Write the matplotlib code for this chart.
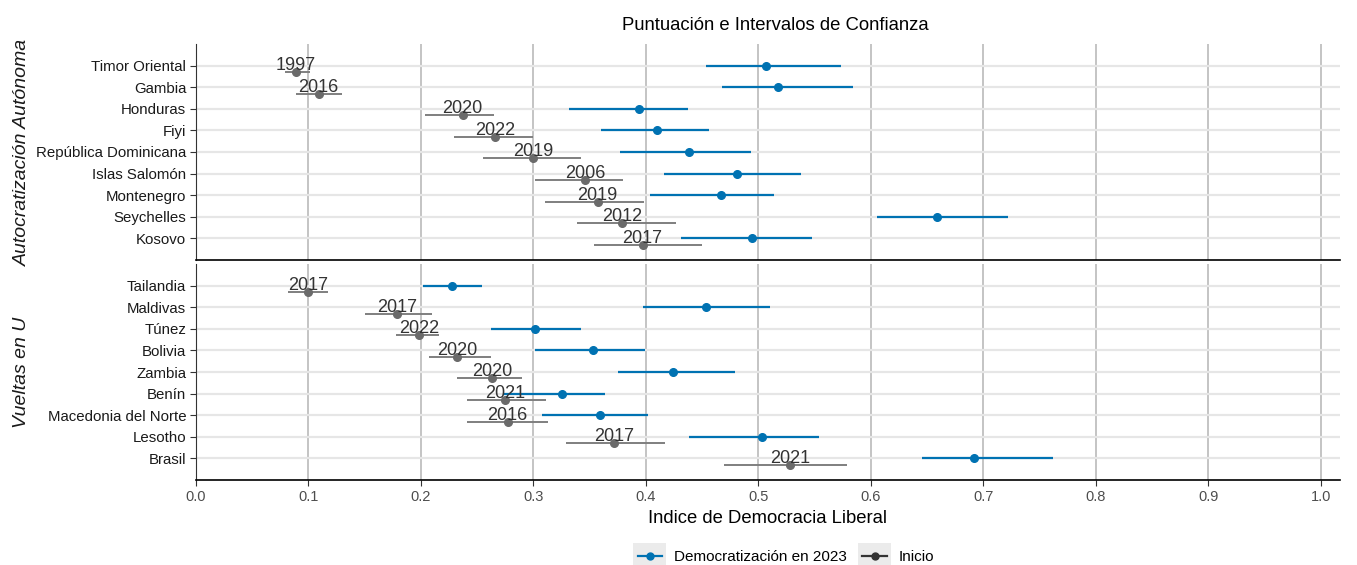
import matplotlib.pyplot as plt
from matplotlib.lines import Line2D
from matplotlib.patches import Rectangle
from matplotlib.legend_handler import HandlerLine2D

plt.rcParams["font.family"] = ["Liberation Sans", "DejaVu Sans"]

# Autocratización Autónoma
auto_countries = ["Timor Oriental", "Gambia", "Honduras", "Fiyi", "República Dominicana",
                  "Islas Salomón", "Montenegro", "Seychelles", "Kosovo"]
auto_2023 = [0.507, 0.517, 0.394, 0.410, 0.438, 0.481, 0.467, 0.659, 0.494]
auto_2023_lo = [0.453, 0.468, 0.332, 0.360, 0.377, 0.416, 0.404, 0.605, 0.431]
auto_2023_hi = [0.573, 0.584, 0.437, 0.456, 0.493, 0.538, 0.514, 0.722, 0.548]
auto_start = [0.089, 0.109, 0.237, 0.266, 0.300, 0.346, 0.357, 0.379, 0.397]
auto_start_lo = [0.079, 0.089, 0.204, 0.229, 0.255, 0.301, 0.310, 0.339, 0.354]
auto_start_hi = [0.101, 0.130, 0.265, 0.300, 0.342, 0.380, 0.398, 0.427, 0.450]
auto_years = ["1997", "2016", "2020", "2022", "2019", "2006", "2019", "2012", "2017"]

# Vueltas en U
u_countries = ["Tailandia", "Maldivas", "Túnez", "Bolivia", "Zambia", "Benín",
               "Macedonia del Norte", "Lesotho", "Brasil"]
u_2023 = [0.228, 0.453, 0.301, 0.353, 0.424, 0.325, 0.359, 0.503, 0.692]
u_2023_lo = [0.202, 0.397, 0.262, 0.301, 0.375, 0.273, 0.308, 0.438, 0.645]
u_2023_hi = [0.254, 0.510, 0.342, 0.399, 0.479, 0.364, 0.402, 0.554, 0.762]
u_start = [0.100, 0.179, 0.198, 0.232, 0.263, 0.275, 0.277, 0.372, 0.528]
u_start_lo = [0.082, 0.150, 0.178, 0.207, 0.232, 0.241, 0.241, 0.329, 0.469]
u_start_hi = [0.117, 0.210, 0.216, 0.262, 0.290, 0.311, 0.313, 0.417, 0.579]
u_years = ["2017", "2017", "2022", "2020", "2020", "2021", "2016", "2017", "2021"]

panel_titles = ["Autocratización Autónoma", "Vueltas en U"]
x_ticks = [0.0, 0.1, 0.2, 0.3, 0.4, 0.5, 0.6, 0.7, 0.8, 0.9, 1.0]

BLUE = "#0072B2"
GREY_LINE = "#7f7f7f"
GREY_DOT = "#6a6a6a"


class KeyWithBg(HandlerLine2D):
    # ggplot-like grey key background
    def create_artists(self, legend, orig_handle, xdescent, ydescent, width, height,
                       fontsize, trans):
        arts = super().create_artists(legend, orig_handle, xdescent, ydescent, width,
                                      height, fontsize, trans)
        bg = Rectangle((-xdescent - 3, -ydescent - 5), width + 6, height + 10,
                       facecolor="#ebebeb", edgecolor="none", transform=trans)
        return [bg] + arts


fig = plt.figure(figsize=(13.57, 5.65), dpi=100)
left, width = 196 / 1357, (1340 - 196) / 1357
h = 216 / 565
ax_top = fig.add_axes([left, 1 - 260 / 565, width, h])
ax_bot = fig.add_axes([left, 1 - 480 / 565, width, h])

panels = [
    (ax_top, auto_countries, auto_2023, auto_2023_lo, auto_2023_hi,
     auto_start, auto_start_lo, auto_start_hi, auto_years),
    (ax_bot, u_countries, u_2023, u_2023_lo, u_2023_hi,
     u_start, u_start_lo, u_start_hi, u_years),
]

off = 0.3
for ax, names, v, lo, hi, s, slo, shi, yrs in panels:
    n = len(names)
    ys = [n - i for i in range(n)]
    for y, b, c in zip(ys, lo, hi):
        ax.plot([b, c], [y, y], color=BLUE, lw=1.6, zorder=3, solid_capstyle="butt")
    ax.plot(v, ys, "o", color=BLUE, ms=5.5, zorder=4)
    for y, a, b, c, t in zip(ys, s, slo, shi, yrs):
        ax.plot([b, c], [y - off, y - off], color=GREY_LINE, lw=1.4, zorder=3,
                solid_capstyle="butt")
        ax.plot(a, y - off, "o", color=GREY_DOT, ms=5.5, zorder=4)
        ax.text(a, y, t, ha="center", va="center", fontsize=13, color="#333333", zorder=5)
    ax.set_yticks(ys)
    ax.set_yticklabels(names, fontsize=10.8, color="#1a1a1a")
    ax.set_ylim(0, 10)
    ax.set_xlim(0, 1.017)
    ax.set_xticks(x_ticks)
    ax.grid(axis="x", color="#c4c4c4", lw=1.4, zorder=0)
    ax.grid(axis="y", color="#e6e6e6", lw=1.6, zorder=0)
    ax.set_axisbelow(True)
    for sp in ["top", "right"]:
        ax.spines[sp].set_visible(False)
    ax.spines["left"].set_color("#333333")
    ax.spines["bottom"].set_color("black")
    ax.spines["bottom"].set_linewidth(1.2)
    ax.tick_params(axis="y", length=4, color="#333333", pad=3)

ax_top.tick_params(axis="x", length=0, labelbottom=False)
ax_bot.tick_params(axis="x", length=4, labelsize=10.5, labelcolor="#4d4d4d", color="#333333")
ax_bot.set_xticklabels([f"{t:.1f}" for t in x_ticks])
ax_bot.set_xlabel("Indice de Democracia Liberal", fontsize=13.3, labelpad=4)

fig.text(22 / 1357, 1 - 152 / 565, panel_titles[0], rotation=90, ha="center", va="center",
         fontsize=14, style="italic", color="#1a1a1a")
fig.text(22 / 1357, 1 - 372 / 565, panel_titles[1], rotation=90, ha="center", va="center",
         fontsize=14, style="italic", color="#1a1a1a")
fig.text(775 / 1357, 1 - 25 / 565, "Puntuación e Intervalos de Confianza",
         ha="center", va="center", fontsize=13.3)

handles = [
    Line2D([], [], color=BLUE, marker="o", ms=5, lw=1.6),
    Line2D([], [], color="#333333", marker="o", ms=5, lw=1.6),
]
fig.legend(handles, ["Democratización en 2023", "Inicio"], loc="center",
           bbox_to_anchor=(786 / 1357, 1 - 557 / 565), ncol=2, frameon=False,
           fontsize=11, handlelength=1.6, columnspacing=1.0, handletextpad=0.8,
           handler_map={Line2D: KeyWithBg()})

fig.savefig("out.png", dpi=100)
